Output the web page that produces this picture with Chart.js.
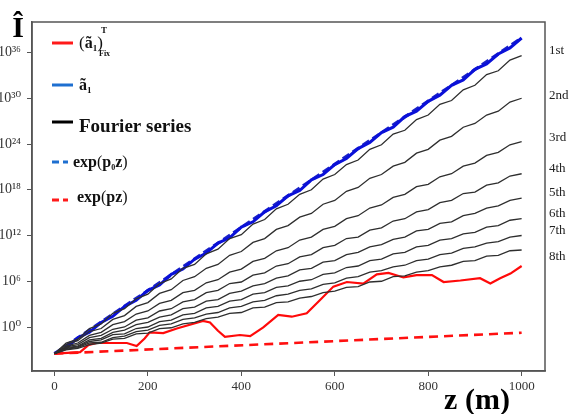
<!DOCTYPE html>
<html>
<head>
<meta charset="utf-8">
<script src="https://cdn.jsdelivr.net/npm/chart.js@4.4.1/dist/chart.umd.min.js"></script>
<style>
  html, body { margin: 0; padding: 0; background: #fff; }
  #wrap { width: 569px; height: 414px; position: relative; }
</style>
</head>
<body>
<div id="wrap"><canvas id="chart" width="569" height="414"></canvas></div>
<script>
"use strict";

// depth z (m), sampled every 25 m
const zSteps = [0,25,50,75,100,125,150,175,200,225,250,275,300,325,350,375,400,425,450,475,500,
  525,550,575,600,625,650,675,700,725,750,775,800,825,850,875,900,925,950,975,1000];

// values are log10 of Î
const blueSolid = [-3.5,-2.8,-1.4,-0.7,0.6,1.4,2.7,3.5,4.8,5.5,6.9,7.6,8.9,9.7,11.0,11.7,13.1,13.8,15.1,15.9,17.2,
  17.9,19.3,20.0,21.3,22.1,23.4,24.2,25.5,26.2,27.6,28.3,29.6,30.4,31.7,32.4,33.8,34.5,35.8,36.6,37.9];

const fourier1 = [-3.5,-2.1,-1.6,-0.2,0.4,1.8,2.4,3.7,4.3,5.7,6.3,7.7,8.2,9.6,10.2,11.6,12.1,13.5,14.1,15.5,16.1,
  17.4,18.0,19.4,20.0,21.3,21.9,23.3,23.9,25.3,25.8,27.2,27.8,29.2,29.7,31.1,31.7,33.1,33.6,35.0,35.6];
const fourier2 = [-3.5,-2.3,-1.8,-0.6,-0.2,1.0,1.5,2.7,3.2,4.4,4.9,6.1,6.6,7.7,8.2,9.4,9.9,11.1,11.6,12.8,13.3,
  14.4,14.9,16.1,16.6,17.8,18.3,19.5,20.0,21.1,21.6,22.8,23.3,24.5,25.0,26.2,26.7,27.8,28.3,29.5,30.0];
const fourier3 = [-3.5,-2.5,-2.1,-1.1,-0.7,0.3,0.7,1.7,2.1,3.1,3.5,4.5,4.8,5.8,6.2,7.2,7.6,8.6,9.0,10.0,10.4,
  11.4,11.8,12.8,13.2,14.2,14.6,15.6,16.0,17.0,17.4,18.4,18.7,19.7,20.1,21.1,21.5,22.5,22.9,23.9,24.3];
const fourier4 = [-3.5,-2.6,-2.3,-1.4,-1.1,-0.3,0.0,0.9,1.2,2.1,2.4,3.3,3.6,4.5,4.8,5.7,5.9,6.8,7.1,8.0,8.3,
  9.2,9.5,10.4,10.7,11.6,11.8,12.7,13.0,13.9,14.2,15.1,15.4,16.3,16.6,17.5,17.7,18.6,18.9,19.8,20.1];
const fourier5 = [-3.5,-2.7,-2.5,-1.7,-1.5,-0.7,-0.4,0.3,0.6,1.3,1.6,2.4,2.6,3.4,3.6,4.4,4.7,5.4,5.7,6.4,6.7,
  7.5,7.7,8.5,8.7,9.5,9.8,10.5,10.8,11.5,11.8,12.6,12.8,13.6,13.8,14.6,14.9,15.6,15.9,16.6,16.9];
const fourier6 = [-3.5,-2.8,-2.6,-1.9,-1.7,-1.0,-0.9,-0.2,0.0,0.7,0.9,1.6,1.8,2.5,2.7,3.4,3.6,4.3,4.5,5.2,5.4,
  6.0,6.2,6.9,7.1,7.8,8.0,8.7,8.9,9.6,9.8,10.5,10.7,11.4,11.6,12.2,12.4,13.1,13.3,14.0,14.2];
const fourier7 = [-3.5,-2.9,-2.7,-2.1,-2.0,-1.4,-1.2,-0.6,-0.4,0.2,0.4,1.0,1.2,1.7,1.9,2.5,2.7,3.3,3.5,4.1,4.3,
  4.8,5.0,5.6,5.8,6.4,6.6,7.2,7.4,7.9,8.1,8.7,8.9,9.5,9.7,10.3,10.5,11.0,11.2,11.8,12.0];
const fourier8 = [-3.5,-3.0,-2.8,-2.3,-2.1,-1.6,-1.5,-0.9,-0.8,-0.2,-0.1,0.4,0.6,1.1,1.3,1.8,1.9,2.5,2.6,3.2,3.3,
  3.8,4.0,4.5,4.7,5.2,5.3,5.9,6.0,6.6,6.7,7.2,7.4,7.9,8.1,8.6,8.7,9.3,9.4,10.0,10.1];

// (ã1)^T_Fix, irregular sampling
const redZ = [0,55,72,90,155,176,193,204,233,262,318,333,350,365,397,419,447,479,508,540,568,597,626,661,690,715,747,775,808,833,869,911,933,954,976,1000];
const redVal = [-3.5,-3.3,-2.4,-2.1,-2.1,-2.5,-1.5,-0.7,-0.8,-0.2,0.8,0.6,-0.5,-1.3,-1.05,-1.2,-0.05,1.6,1.35,1.8,3.5,5.3,5.9,5.7,6.9,7.1,6.5,6.8,6.8,5.9,6.1,6.4,5.7,6.4,7.0,8.0];

// straight exponentials: end points only
const expZ = [0, 1000];
const expP0 = [-3.5, 37.9];
const expP = [-3.5, -0.75];

const fourierSets = [fourier1, fourier2, fourier3, fourier4, fourier5, fourier6, fourier7, fourier8];
const orderLabels = ['1st', '2nd', '3rd', '4th', '5th', '6th', '7th', '8th'];
const orderLabelAt = [36.3, 30.4, 24.9, 20.8, 17.6, 14.9, 12.7, 9.2];

const yTickExp = [0, 6, 12, 18, 24, 30, 36];
const xTickVals = [0, 200, 400, 600, 800, 1000];

const SERIF = "'Liberation Serif', 'Times New Roman', 'DejaVu Serif', serif";
const SUP = {'0':'⁰','1':'¹','2':'²','3':'³','4':'⁴','5':'⁵','6':'⁶','7':'⁷','8':'⁸','9':'⁹'};

const pts = (xs, ys) => xs.map((x, i) => ({ x: x, y: Math.pow(10, ys[i]) }));

const datasets = [];
fourierSets.forEach((s, i) => {
  datasets.push({
    label: 'Fourier ' + orderLabels[i],
    data: pts(zSteps, s),
    borderColor: '#2e2e2e',
    borderWidth: 1.3
  });
});
datasets.push({ label: 'exp(pz)', data: pts(expZ, expP), borderColor: '#ff1010', borderWidth: 2.6, borderDash: [9, 6] });
datasets.push({ label: '(ã1)T Fix', data: pts(redZ, redVal), borderColor: '#ff0a0a', borderWidth: 2.2 });
datasets.push({ label: 'ã1', data: pts(zSteps, blueSolid), borderColor: '#0a10d8', borderWidth: 3 });
datasets.push({ label: 'exp(p0z)', data: pts(expZ, expP0), borderColor: '#1a22c8', borderWidth: 3.2, borderDash: [8, 4] });

// rich text helper: pieces of [text, size, dy, bold]
function drawRich(ctx, x, y, pieces) {
  pieces.forEach((p) => {
    ctx.font = (p[3] ? 'bold ' : '') + p[1] + 'px ' + SERIF;
    ctx.fillText(p[0], x, y + p[2]);
    x += ctx.measureText(p[0]).width;
  });
}

const extras = {
  id: 'extras',
  afterDraw(chart) {
    const ctx = chart.ctx;
    const a = chart.chartArea;
    const ys = chart.scales.y;
    ctx.save();

    // frame
    ctx.strokeStyle = '#555';
    ctx.lineWidth = 1.5;
    ctx.strokeRect(a.left, a.top, a.right - a.left, a.bottom - a.top);

    // axis titles
    ctx.fillStyle = '#000';
    ctx.textBaseline = 'alphabetic';
    ctx.textAlign = 'center';
    ctx.font = 'bold 30px ' + SERIF;
    ctx.fillText('Î', 18, 37);
    ctx.fillText('z (m)', 477, 409);

    // order labels on the right
    ctx.textAlign = 'left';
    ctx.textBaseline = 'middle';
    ctx.fillStyle = '#222';
    ctx.font = '13px ' + SERIF;
    orderLabels.forEach((t, i) => {
      ctx.fillText(t, 549, ys.getPixelForValue(Math.pow(10, orderLabelAt[i])));
    });

    // legend
    const lx0 = 52, lx1 = 73;
    ctx.lineWidth = 3;
    const seg = (y, color, dash) => {
      ctx.strokeStyle = color;
      ctx.setLineDash(dash);
      ctx.beginPath();
      ctx.moveTo(lx0, y);
      ctx.lineTo(dash.length ? 68 : lx1, y);
      ctx.stroke();
      ctx.setLineDash([]);
    };
    seg(43, '#ff1a1a', []);
    seg(85, '#1e6fd0', []);
    seg(122, '#000', []);
    seg(162, '#1e6fd0', [7, 4]);
    seg(200, '#ff1a1a', [7, 4]);

    ctx.fillStyle = '#111';
    ctx.textBaseline = 'alphabetic';
    drawRich(ctx, 79, 48, [['(', 17, 0, false], ['ã', 16, 0, true], ['1', 9, 3, true], [')', 17, 0, false]]);
    drawRich(ctx, 101, 33, [['T', 9, 0, true]]);
    drawRich(ctx, 99, 56, [['Fix', 8, 0, true]]);
    drawRich(ctx, 79, 90, [['ã', 16, 0, true], ['1', 9, 3, true]]);
    drawRich(ctx, 79, 132, [['Fourier series', 19, 0, true]]);
    drawRich(ctx, 73, 167, [['exp', 16, 0, true], ['(', 16, 0, false], ['p', 16, 0, true], ['0', 8, 3, true], ['z', 16, 0, true], [')', 16, 0, false]]);
    drawRich(ctx, 77, 202, [['exp', 16, 0, true], ['(', 16, 0, false], ['pz', 16, 0, true], [')', 16, 0, false]]);

    ctx.restore();
  }
};

new Chart(document.getElementById('chart'), {
  type: 'line',
  data: { datasets: datasets },
  options: {
    responsive: false,
    animation: false,
    events: [],
    layout: { padding: { top: 22, right: 24, left: 0, bottom: 0 } },
    elements: { point: { radius: 0 }, line: { tension: 0, fill: false } },
    plugins: { legend: { display: false }, tooltip: { enabled: false } },
    scales: {
      x: {
        type: 'linear',
        min: -48,
        max: 1050,
        afterFit: (s) => { s.height = 43; },
        afterBuildTicks: (s) => { s.ticks = xTickVals.map((v) => ({ value: v })); },
        grid: { drawOnChartArea: false, drawTicks: true, tickLength: 5, color: '#555' },
        border: { color: '#555', width: 1.5 },
        ticks: { color: '#333', padding: 3, font: { family: SERIF, size: 13 }, callback: (v) => String(v) }
      },
      y: {
        type: 'logarithmic',
        min: Math.pow(10, -5.77),
        max: Math.pow(10, 40),
        afterFit: (s) => { s.width = 32; },
        afterBuildTicks: (s) => { s.ticks = yTickExp.map((e) => ({ value: Math.pow(10, e) })); },
        grid: { drawOnChartArea: false, drawTicks: true, tickLength: 5, color: '#555' },
        border: { color: '#555', width: 1.5 },
        ticks: {
          color: '#333',
          padding: 6,
          font: { family: SERIF, size: 14 },
          callback: (v) => {
            const e = String(Math.round(Math.log10(v)));
            return '10' + e.split('').map((c) => SUP[c]).join('');
          }
        }
      }
    }
  },
  plugins: [extras]
});
</script>
</body>
</html>
